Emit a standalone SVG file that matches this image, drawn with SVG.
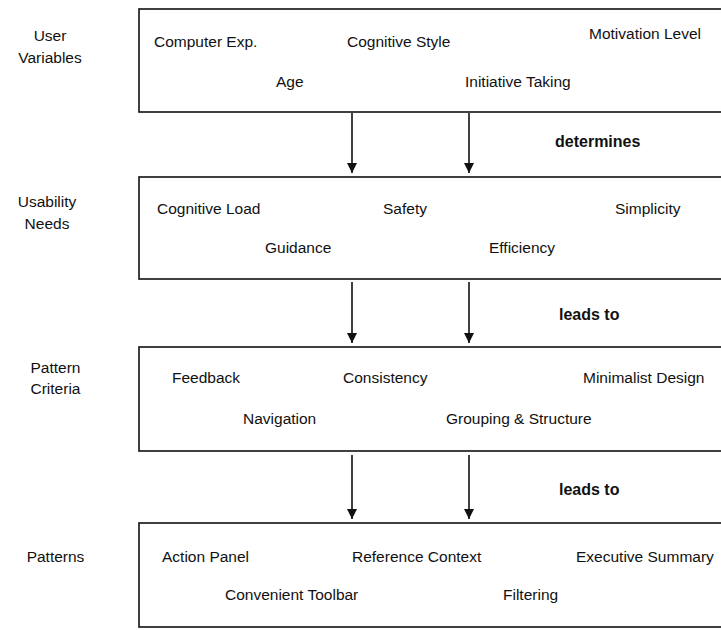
<svg xmlns="http://www.w3.org/2000/svg" width="721" height="630" viewBox="0 0 721 630">
  <defs>
    <style>
      text { font-family: "Liberation Sans", Arial, sans-serif; font-size: 15.5px; fill: #111; }
      .lbl { text-anchor: middle; }
      .rel { font-weight: bold; font-size: 16px; }
      .box { fill: #fff; stroke: #111; stroke-width: 1.6; }
      .conn line { stroke: #111; stroke-width: 1.6; }
    </style>
    <marker id="arrow" viewBox="0 0 10 10" refX="10" refY="5" markerWidth="10" markerHeight="10" markerUnits="userSpaceOnUse" orient="auto">
      <path d="M0,0 L10,5 L0,10 Z" fill="#111"/>
    </marker>
  </defs>
  <rect width="721" height="630" fill="#fff"/>

  <!-- level 1: user variables -->
  <g id="user-variables">
    <text class="lbl" x="50" y="41">User</text>
    <text class="lbl" x="50" y="63">Variables</text>
    <rect class="box" x="139" y="9" width="600" height="103"/>
    <text x="154" y="47">Computer Exp.</text>
    <text x="347" y="47">Cognitive Style</text>
    <text x="589" y="39">Motivation Level</text>
    <text x="276" y="87">Age</text>
    <text x="465" y="87">Initiative Taking</text>
  </g>

  <!-- level 2: usability needs -->
  <g id="usability-needs">
    <text class="lbl" x="47" y="207">Usability</text>
    <text class="lbl" x="47" y="229">Needs</text>
    <rect class="box" x="139" y="177" width="600" height="102"/>
    <text x="157" y="214">Cognitive Load</text>
    <text x="383" y="214">Safety</text>
    <text x="615" y="214">Simplicity</text>
    <text x="265" y="253">Guidance</text>
    <text x="489" y="253">Efficiency</text>
  </g>

  <!-- level 3: pattern criteria -->
  <g id="pattern-criteria">
    <text class="lbl" x="55.5" y="373">Pattern</text>
    <text class="lbl" x="55.5" y="394">Criteria</text>
    <rect class="box" x="139" y="347" width="600" height="104"/>
    <text x="172" y="383">Feedback</text>
    <text x="343" y="383">Consistency</text>
    <text x="583" y="383">Minimalist Design</text>
    <text x="243" y="424">Navigation</text>
    <text x="446" y="424">Grouping &amp; Structure</text>
  </g>

  <!-- level 4: patterns -->
  <g id="patterns">
    <text class="lbl" x="55.5" y="562">Patterns</text>
    <rect class="box" x="139" y="523" width="600" height="104"/>
    <text x="162" y="562">Action Panel</text>
    <text x="352" y="562">Reference Context</text>
    <text x="576" y="562">Executive Summary</text>
    <text x="225" y="600">Convenient Toolbar</text>
    <text x="503" y="600">Filtering</text>
  </g>

  <!-- connectors between levels -->
  <g id="connectors" class="conn">
    <line x1="352" y1="113" x2="352" y2="173" marker-end="url(#arrow)"/>
    <line x1="469" y1="113" x2="469" y2="173" marker-end="url(#arrow)"/>
    <text class="rel" x="555" y="147">determines</text>

    <line x1="352" y1="282" x2="352" y2="343" marker-end="url(#arrow)"/>
    <line x1="469" y1="282" x2="469" y2="343" marker-end="url(#arrow)"/>
    <text class="rel" x="559" y="320">leads to</text>

    <line x1="352" y1="455" x2="352" y2="519" marker-end="url(#arrow)"/>
    <line x1="469" y1="455" x2="469" y2="519" marker-end="url(#arrow)"/>
    <text class="rel" x="559" y="495">leads to</text>
  </g>
</svg>
